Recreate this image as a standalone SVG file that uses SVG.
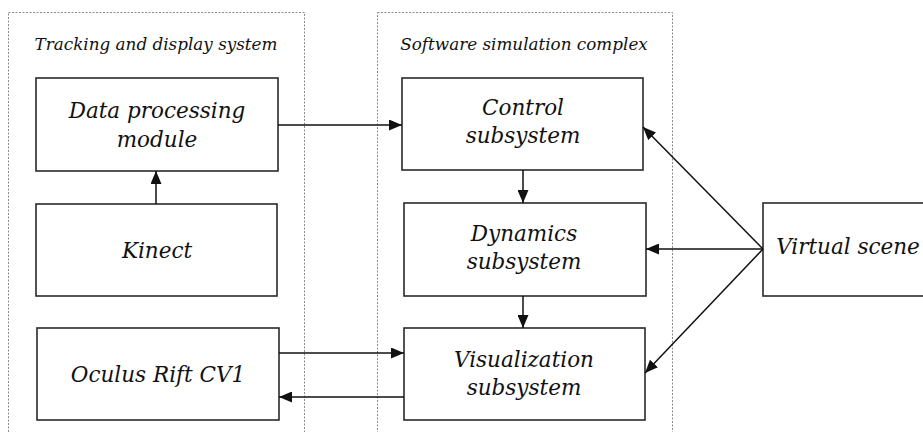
<svg xmlns="http://www.w3.org/2000/svg" width="923" height="432" viewBox="0 0 923 432">
<style>
.cont{fill:none;stroke:#8a8a8a;stroke-width:1;stroke-dasharray:2,1.5}
.box{fill:#fff;stroke:#2a2a2a;stroke-width:1.6}
.t{font-family:"DejaVu Serif","Liberation Serif",serif;font-style:italic;fill:#111;text-anchor:middle}
.lab{font-size:16.8px}
.big{font-size:21.5px}
.c line{stroke:#111;stroke-width:1.5;marker-end:url(#ah)}
</style>
<defs>
<marker id="ah" viewBox="0 0 13 11" refX="13" refY="5.5" markerWidth="13" markerHeight="11" markerUnits="userSpaceOnUse" orient="auto">
<path d="M0,0 L13,5.5 L0,11 Z" fill="#111"/>
</marker>
</defs>
<rect width="923" height="432" fill="#fff"/>
<g id="tracking-container">
<rect class="cont" x="8.5" y="12.5" width="296" height="430"/>
<text class="t lab" x="156" y="50">Tracking and display system</text>
</g>
<g id="simulation-container">
<rect class="cont" x="377.5" y="12.5" width="295" height="430"/>
<text class="t lab" x="524" y="50">Software simulation complex</text>
</g>
<g id="data-processing">
<rect class="box" x="36" y="78" width="242" height="93"/>
<text class="t big" x="157" y="118">Data processing</text>
<text class="t big" x="157" y="147">module</text>
</g>
<g id="kinect">
<rect class="box" x="36" y="204" width="241" height="92"/>
<text class="t big" x="157" y="258">Kinect</text>
</g>
<g id="oculus">
<rect class="box" x="37" y="328" width="242" height="92"/>
<text class="t big" x="158" y="382">Oculus Rift CV1</text>
</g>
<g id="control">
<rect class="box" x="402" y="78" width="241" height="92"/>
<text class="t big" x="523" y="115">Control</text>
<text class="t big" x="523" y="143">subsystem</text>
</g>
<g id="dynamics">
<rect class="box" x="404" y="203" width="242" height="93"/>
<text class="t big" x="524" y="241">Dynamics</text>
<text class="t big" x="524" y="269">subsystem</text>
</g>
<g id="visualization">
<rect class="box" x="404" y="328" width="241" height="92"/>
<text class="t big" x="524" y="367">Visualization</text>
<text class="t big" x="524" y="395">subsystem</text>
</g>
<g id="virtual-scene">
<rect class="box" x="763" y="203" width="170" height="93"/>
<text class="t big" x="848" y="254">Virtual scene</text>
</g>
<g id="connectors" class="c">
<line x1="278" y1="125" x2="402" y2="125"/>
<line x1="156" y1="204" x2="156" y2="171"/>
<line x1="523" y1="170" x2="523" y2="203"/>
<line x1="523" y1="296" x2="523" y2="328"/>
<line x1="279" y1="353" x2="404" y2="353"/>
<line x1="404" y1="397" x2="279" y2="397"/>
<line x1="763" y1="249" x2="643" y2="127"/>
<line x1="763" y1="249" x2="646" y2="249"/>
<line x1="763" y1="249" x2="645" y2="373"/>
</g>
</svg>
